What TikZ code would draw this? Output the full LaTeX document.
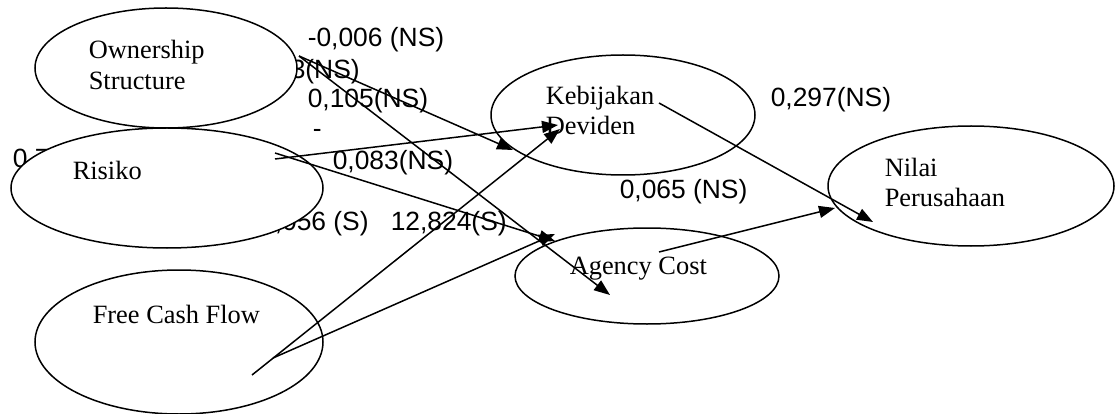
\documentclass[tikz,border=0pt]{standalone}
\usepackage{fontspec}
\setmainfont{Liberation Serif}
\setsansfont{Liberation Sans}
\usetikzlibrary{shapes,arrows.meta,calc}

\begin{document}
\begin{tikzpicture}[
    x=1pt, y=-1pt,
    >={Triangle[length=16pt, width=12pt]},
    line width=1.5pt,
    oval/.style={ellipse, draw, fill=white, inner sep=0pt},
    varname/.style={font=\fontsize{26.4}{31}\selectfont, inner sep=0pt, anchor=base west},
    coef/.style={font=\sffamily\fontsize{26.4}{31}\selectfont, inner sep=0pt, anchor=base west}
]
    \useasboundingbox (0,0) rectangle (1116,414);

    % Coefficients (some partly hidden behind the ovals)
    \node[coef] (c006) at (307,47) {-0,006 (NS)};
    \node[coef] (c3ns) at (290,79) {3(NS)};
    \node[coef] (c105) at (307,108) {0,105(NS)};
    \node[coef] (cdash) at (312,138) {-};
    \node[coef] (c083) at (332,170) {0,083(NS)};
    \node[coef] (c07) at (12,168) {0,7};
    \node[coef] (c056) at (274,230) {,056 (S)};
    \node[coef] (c824) at (390,230) {12,824(S)};
    \node[coef] (c065) at (619,199) {0,065 (NS)};
    \node[coef] (c297) at (770,107) {0,297(NS)};

    % Variables
    \node[oval, minimum width=262pt, minimum height=120pt] (own) at (166,68) {};
    \node[oval, minimum width=312pt, minimum height=120pt] (risk) at (167,188) {};
    \node[oval, minimum width=288pt, minimum height=144pt] (fcf) at (179,342) {};
    \node[oval, minimum width=264pt, minimum height=120pt] (keb) at (623,115) {};
    \node[oval, minimum width=264pt, minimum height=96pt] (agency) at (647,276) {};
    \node[oval, minimum width=286pt, minimum height=120pt] (nilai) at (971,186) {};

    \node[varname] (own-a) at (88,59) {Ownership};
    \node[varname] (own-b) at (88,90) {Structure};
    \node[varname] (risk-t) at (72,180) {Risiko};
    \node[varname] (fcf-t) at (92,323) {Free Cash Flow};
    \node[varname] (keb-a) at (545,105) {Kebijakan};
    \node[varname] (keb-b) at (545,135) {Deviden};
    \node[varname] (agency-t) at (569,274) {Agency Cost};
    \node[varname] (nilai-a) at (884,177) {Nilai};
    \node[varname] (nilai-b) at (884,207) {Perusahaan};

    % Paths
    \draw[->] ($(own.center)+(133,-12)$) -- ($(keb.center)+(-110,35)$);
    \draw[->] ($(own.center)+(133,-12)$) -- ($(agency.center)+(-37,19)$);
    \draw[->] ($(risk.center)+(108,-29)$) -- ($(keb.center)+(-65,10)$);
    \draw[->] ($(risk.center)+(108,-35)$) -- ($(agency.center)+(-92,-35)$);
    \draw[->] ($(fcf.center)+(73,33)$) -- ($(keb.center)+(-63,14)$);
    \draw[->] ($(fcf.center)+(94,16)$) -- ($(agency.center)+(-92,-42)$);
    \draw[->] ($(keb.center)+(36,-12)$) -- ($(nilai.center)+(-98,36)$);
    \draw[->] ($(agency.center)+(12,-24)$) -- ($(nilai.center)+(-136,22)$);
\end{tikzpicture}
\end{document}
